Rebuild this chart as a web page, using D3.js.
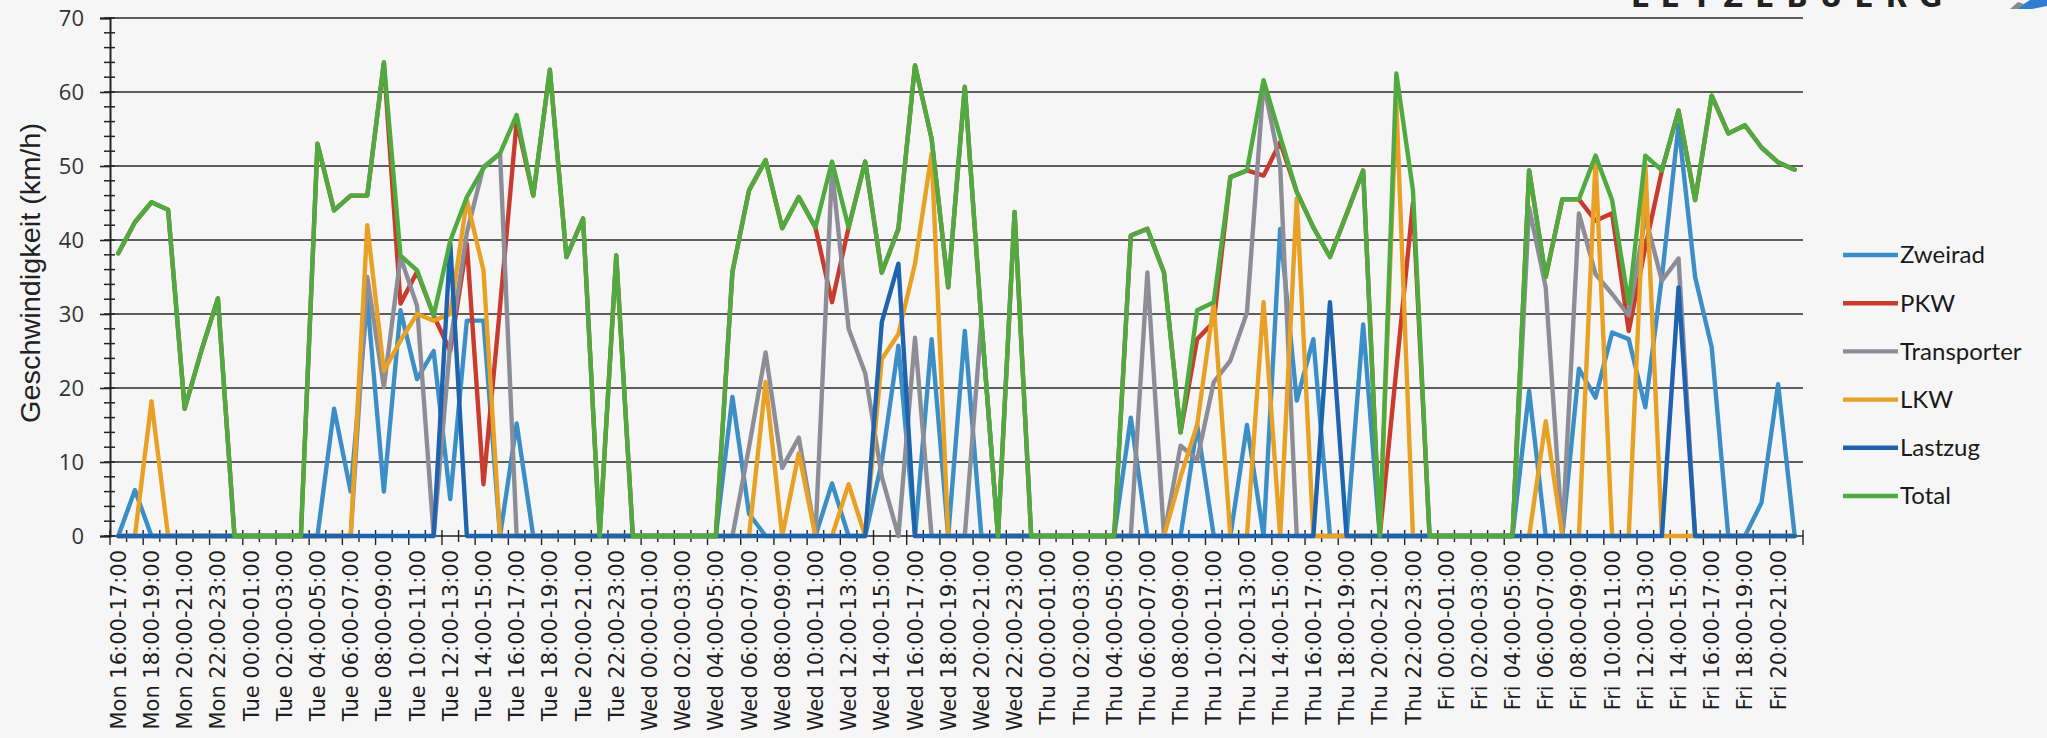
<!DOCTYPE html>
<html>
<head>
<meta charset="utf-8">
<script src="https://d3js.org/d3.v7.min.js"></script>
<style>
  body { margin: 0; background: #f6f6f7; }
  svg { display: block; }
</style>
</head>
<body>
<svg id="grafik"></svg>
<script>
// --- DATEN ---
const tage = ["Mon", "Tue", "Wed", "Thu", "Fri"];
const ersteStunde = [16, 0, 0, 0, 0];
const letzteStunde = [23, 23, 23, 23, 21];

const yTicks = [0, 10, 20, 30, 40, 50, 60, 70];

// Mon 16-23 | Tue | Wed | Thu | Fri 0-21
const zweirad = [
  0, 6.2, 0, 0, 0, 0, 0, 0,
  0, 0, 0, 0, 0, 17.2, 6, 32, 6, 30.5, 21.2, 25, 5, 29.1, 29.1, 0, 15.2, 0, 0, 0, 0, 0, 0, 0,
  0, 0, 0, 0, 0, 18.8, 3, 0, 0, 0, 0, 7.1, 0, 0, 10, 25.7, 0, 26.6, 0, 27.7, 0, 0, 0, 0,
  0, 0, 0, 0, 0, 16, 0, 0, 0, 15, 0, 0, 15, 0, 41.5, 18.3, 26.6, 0, 0, 28.6, 0, 0, 0, 0,
  0, 0, 0, 0, 0, 19.6, 0, 0, 22.6, 18.7, 27.5, 26.6, 17.4, 35, 55.5, 35, 25.5, 0, 0, 4.5, 20.5, 0
];
const pkw = [
  38.2, 42.4, 45.1, 44.1, 17.2, 25, 32.1, 0,
  0, 0, 0, 0, 53, 44, 46, 46, 64, 31.4, 35.7, 29.8, 25, 39.5, 7, 31, 56, 46, 63, 37.7, 42.9, 0, 37.9, 0,
  0, 0, 0, 0, 0, 35.7, 46.7, 50.8, 41.6, 45.8, 41.7, 31.6, 41.7, 50.6, 35.6, 41.5, 63.6, 53.7, 33.6, 60.7, 29, 0, 43.8, 0,
  0, 0, 0, 0, 0, 40.6, 41.5, 35.6, 14, 26.6, 28.9, 48.5, 49.4, 48.7, 53.2, 46.5, 41.7, 37.7, 43.5, 49.4, 0, 22.5, 45, 0,
  0, 0, 0, 0, 0, 49.4, 35, 45.5, 45.5, 42.6, 43.6, 27.7, 39, 49.4, 57.5, 45.4, 59.5, 54.4, 55.5, 52.5, 50.5, 49.5
];
const transporter = [
  0, 0, 0, 0, 0, 0, 0, 0,
  0, 0, 0, 0, 0, 0, 0, 35, 20.1, 37.7, 31.1, 0, 26, 41, 49.9, 51.7, 0, 0, 0, 0, 0, 0, 0, 0,
  0, 0, 0, 0, 0, 0, 12, 24.8, 9.2, 13.3, 0, 49.5, 28, 22, 8, 0, 26.8, 0, 0, 0, 29, 0, 0, 0,
  0, 0, 0, 0, 0, 0, 35.6, 0, 12.2, 10.3, 20.8, 23.7, 30.2, 61.2, 50, 0, 0, 0, 0, 0, 0, 0, 0, 0,
  0, 0, 0, 0, 0, 44.4, 33.6, 0, 43.6, 35.4, 32.7, 29.8, 43.1, 34.5, 37.5, 0, 0, 0, 0, 0, 0, 0
];
const lkw = [
  0, 0, 18.2, 0, 0, 0, 0, 0,
  0, 0, 0, 0, 0, 0, 0, 42, 22.3, 26.4, 30, 29.1, 30, 45.4, 35.9, 0, 0, 0, 0, 0, 0, 0, 0, 0,
  0, 0, 0, 0, 0, 0, 0, 20.8, 0, 11.2, 0, 0, 7, 0, 23.9, 27.3, 36.8, 51.7, 0, 0, 0, 0, 0, 0,
  0, 0, 0, 0, 0, 0, 0, 0, 8, 15, 31.4, 0, 0, 31.6, 0, 45.6, 0, 0, 0, 0, 0, 58.5, 0, 0,
  0, 0, 0, 0, 0, 0, 15.5, 0, 0, 50.8, 0, 0, 50.3, 0, 0, 0, 0, 0, 0, 0, 0, 0
];
const lastzug = [
  0, 0, 0, 0, 0, 0, 0, 0,
  0, 0, 0, 0, 0, 0, 0, 0, 0, 0, 0, 0, 39.6, 0, 0, 0, 0, 0, 0, 0, 0, 0, 0, 0,
  0, 0, 0, 0, 0, 0, 0, 0, 0, 0, 0, 0, 0, 0, 28.9, 36.8, 0, 0, 0, 0, 0, 0, 0, 0,
  0, 0, 0, 0, 0, 0, 0, 0, 0, 0, 0, 0, 0, 0, 0, 0, 0, 31.6, 0, 0, 0, 0, 0, 0,
  0, 0, 0, 0, 0, 0, 0, 0, 0, 0, 0, 0, 0, 0, 33.6, 0, 0, 0, 0, 0, 0, 0
];
const total = [
  38.2, 42.4, 45.1, 44.1, 17.2, 25, 32.1, 0,
  0, 0, 0, 0, 53, 44, 46, 46, 64, 37.9, 35.9, 29.8, 39.9, 45.8, 49.7, 51.7, 56.9, 46, 63, 37.7, 42.9, 0, 37.9, 0,
  0, 0, 0, 0, 0, 35.7, 46.7, 50.8, 41.6, 45.8, 41.7, 50.6, 41.7, 50.6, 35.6, 41.5, 63.6, 53.7, 33.6, 60.7, 29, 0, 43.8, 0,
  0, 0, 0, 0, 0, 40.6, 41.5, 35.6, 14, 30.5, 31.6, 48.5, 49.4, 61.6, 54, 46.5, 41.7, 37.7, 43.5, 49.4, 0, 62.5, 46.7, 0,
  0, 0, 0, 0, 0, 49.4, 35, 45.5, 45.5, 51.4, 45.4, 31.4, 51.4, 49.4, 57.5, 45.4, 59.5, 54.4, 55.5, 52.5, 50.5, 49.5
];

const serien = [
  { name: "Zweirad", werte: zweirad, farbe: "#3b8ec6" },
  { name: "PKW", werte: pkw, farbe: "#c93b2d" },
  { name: "Transporter", werte: transporter, farbe: "#8d8d97" },
  { name: "LKW", werte: lkw, farbe: "#e8a025" },
  { name: "Lastzug", werte: lastzug, farbe: "#1f63af" },
  { name: "Total", werte: total, farbe: "#4fab40" }
];

// Kategorien "Mon 16:00-17:00" ...
const zwei = n => String(n).padStart(2, "0");
const kategorien = [];
tage.forEach((t, k) => {
  for (let h = ersteStunde[k]; h <= letzteStunde[k]; h++) {
    kategorien.push(`${t} ${zwei(h)}:00-${zwei(h + 1)}:00`);
  }
});

// --- LAYOUT ---
const width = 2047, height = 738;
const links = 110, rechts = 1803, oben = 18, unten = 536;

const svg = d3.select("#grafik").attr("width", width).attr("height", height);
svg.append("rect").attr("width", width).attr("height", height).attr("fill", "#f6f6f7");

const x = d3.scaleBand().domain(kategorien).range([links, rechts]).padding(0);
const y = d3.scaleLinear().domain([0, 70]).range([unten, oben]);
const xm = c => x(c) + x.bandwidth() / 2;

// --- GITTER ---
svg.append("g")
  .selectAll("line")
  .data(yTicks.filter(t => t > 0))
  .enter().append("line")
  .attr("x1", links).attr("x2", rechts)
  .attr("y1", d => y(d)).attr("y2", d => y(d))
  .attr("stroke", "#2a2a2a").attr("stroke-width", 1.6);

// --- Y ACHSE ---
const yAchse = svg.append("g")
  .attr("transform", `translate(${links},0)`)
  .call(d3.axisLeft(y).tickValues(yTicks).tickSize(10).tickPadding(16));
yAchse.select(".domain").attr("stroke", "#222").attr("stroke-width", 2);
yAchse.selectAll(".tick line").attr("stroke", "#222").attr("stroke-width", 1.6);
yAchse.selectAll("text")
  .attr("font-family", "'Open Sans', sans-serif")
  .attr("font-size", 22)
  .attr("fill", "#333");

// kleine Striche alle 2 km/h
svg.append("g")
  .selectAll("line")
  .data(d3.range(0, 71, 2))
  .enter().append("line")
  .attr("x1", links - 6).attr("x2", links + 5)
  .attr("y1", d => y(d)).attr("y2", d => y(d))
  .attr("stroke", "#222").attr("stroke-width", 1.5);

svg.append("text")
  .attr("transform", "translate(40,273) rotate(-90)")
  .attr("text-anchor", "middle")
  .attr("font-family", "'Liberation Sans', Arial, sans-serif")
  .attr("font-size", 28)
  .attr("textLength", 300)
  .attr("lengthAdjust", "spacingAndGlyphs")
  .attr("fill", "#222")
  .text("Geschwindigkeit (km/h)");

// --- X ACHSE ---
svg.append("line")
  .attr("x1", links).attr("x2", rechts)
  .attr("y1", unten).attr("y2", unten)
  .attr("stroke", "#222").attr("stroke-width", 1.6);

svg.append("g")
  .selectAll("line")
  .data(kategorien.concat(["ende"]))
  .enter().append("line")
  .attr("x1", (d, i) => links + i * x.bandwidth())
  .attr("x2", (d, i) => links + i * x.bandwidth())
  .attr("y1", unten - 6)
  .attr("y2", (d, i) => unten + (i % 2 === 0 ? 9 : 6))
  .attr("stroke", "#222").attr("stroke-width", 1.4);

const xAchse = svg.append("g")
  .attr("transform", `translate(0,${unten})`)
  .call(d3.axisBottom(x).tickValues(kategorien.filter((c, i) => i % 2 === 0)).tickSize(0));
xAchse.select(".domain").remove();
xAchse.selectAll("text")
  .attr("transform", "rotate(-90)")
  .attr("text-anchor", "end")
  .attr("x", -14)
  .attr("y", 0)
  .attr("dy", "0.36em")
  .attr("font-family", "'DejaVu Sans', sans-serif")
  .attr("font-size", 21)
  .attr("fill", "#1e1e1e");

// --- LINIEN ---
const linie = d3.line()
  .x((d, i) => xm(kategorien[i]))
  .y(d => y(d));

svg.append("g")
  .selectAll("path")
  .data(serien)
  .enter().append("path")
  .attr("d", s => linie(s.werte))
  .attr("fill", "none")
  .attr("stroke", s => s.farbe)
  .attr("stroke-width", 4.4)
  .attr("stroke-linejoin", "round")
  .attr("stroke-linecap", "round");

// --- LEGENDE ---
const legende = svg.append("g")
  .selectAll("g")
  .data(serien)
  .enter().append("g")
  .attr("transform", (s, i) => `translate(1843,${255 + i * 48.2})`);

legende.append("line")
  .attr("x1", 0).attr("x2", 55)
  .attr("stroke", s => s.farbe)
  .attr("stroke-width", 4.4);

legende.append("text")
  .attr("x", 57)
  .attr("dy", "0.35em")
  .attr("font-family", "Lato, 'Open Sans', sans-serif")
  .attr("font-size", 24)
  .attr("fill", "#1a1a1a")
  .text(s => s.name);

// --- LOGO OBEN RECHTS (abgeschnitten) ---
svg.append("text")
  .attr("x", 1631).attr("y", 7)
  .attr("font-family", "'DejaVu Sans', sans-serif")
  .attr("font-weight", "bold")
  .attr("font-size", 28)
  .attr("letter-spacing", 12)
  .attr("fill", "#222")
  .text("LETZEBUERG");

svg.append("path")
  .attr("d", "M2016,9 L2030,0 L2047,0 L2047,6 L2032,9 Z")
  .attr("fill", "#2f7fd0");
svg.append("path")
  .attr("d", "M2010,9 L2018,2 L2024,4 L2018,9 Z")
  .attr("fill", "#8a8a8a");
</script>
</body>
</html>
